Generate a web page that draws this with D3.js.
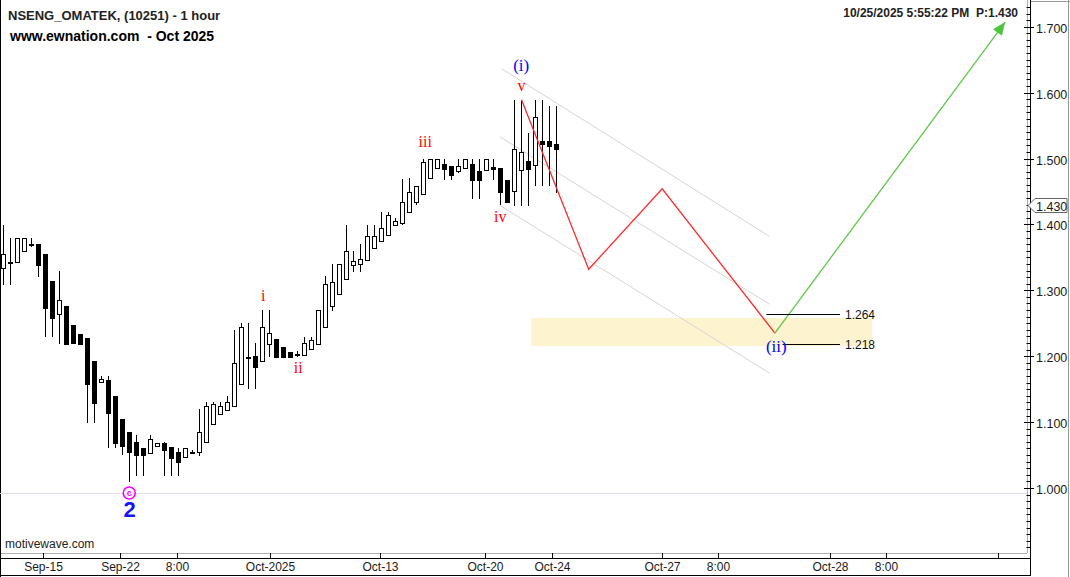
<!DOCTYPE html>
<html><head><meta charset="utf-8">
<script src="https://cdn.jsdelivr.net/npm/d3@7"></script>
<style>body{margin:0;background:#fff}svg{display:block}text{font-family:"Liberation Sans",Arial,sans-serif}</style>
</head><body><svg id="c" width="1070" height="577"></svg>
<script>
// ---- data ----
const opens  = [1.333,1.343,1.343,1.360,1.370,1.370,1.355,1.314,1.264,1.276,1.247,1.234,1.228,1.193,1.161,1.164,1.140,1.105,1.085,1.070,
                1.060,1.054,1.065,1.068,1.062,1.055,1.047,1.054,1.054,1.069,1.097,1.112,1.118,1.124,1.157,1.199,1.200,1.192,1.218,1.226,
                1.214,1.206,1.204,1.202,1.211,1.218,1.244,1.276,1.294,1.317,1.338,1.341,1.346,1.365,1.374,1.383,1.399,1.402,1.418,1.434,
                1.446,1.470,1.485,1.492,1.489,1.481,1.485,1.492,1.481,1.482,1.487,1.485,1.467,1.451,1.483,1.496,1.490,1.527,1.526,1.522];
const highs  = [1.399,1.379,1.380,1.379,1.379,1.370,1.355,1.314,1.329,1.276,1.247,1.234,1.228,1.193,1.170,1.170,1.140,1.105,1.085,1.080,
                1.060,1.080,1.069,1.070,1.062,1.060,1.060,1.057,1.120,1.130,1.130,1.130,1.139,1.239,1.250,1.250,1.220,1.270,1.270,1.226,
                1.214,1.206,1.208,1.229,1.229,1.270,1.321,1.340,1.340,1.399,1.359,1.370,1.399,1.399,1.419,1.419,1.410,1.469,1.470,1.459,
                1.499,1.499,1.499,1.499,1.489,1.499,1.499,1.499,1.499,1.499,1.499,1.485,1.467,1.589,1.589,1.538,1.589,1.589,1.580,1.580];
const lows   = [1.308,1.308,1.343,1.360,1.366,1.320,1.229,1.229,1.219,1.219,1.219,1.219,1.099,1.099,1.159,1.060,1.060,1.050,1.009,1.018,
                1.018,1.054,1.065,1.018,1.018,1.018,1.047,1.051,1.049,1.069,1.097,1.112,1.118,1.124,1.157,1.150,1.150,1.192,1.199,1.199,
                1.199,1.199,1.199,1.202,1.211,1.218,1.244,1.269,1.294,1.317,1.328,1.328,1.346,1.365,1.374,1.383,1.399,1.399,1.418,1.429,
                1.446,1.470,1.485,1.467,1.467,1.478,1.485,1.439,1.439,1.482,1.468,1.430,1.433,1.428,1.428,1.428,1.458,1.458,1.458,1.448];
const closes = [1.355,1.343,1.379,1.379,1.370,1.338,1.273,1.258,1.286,1.219,1.219,1.219,1.158,1.129,1.166,1.114,1.069,1.064,1.054,1.050,
                1.050,1.075,1.069,1.057,1.045,1.040,1.060,1.054,1.085,1.124,1.127,1.124,1.130,1.189,1.244,1.199,1.184,1.244,1.235,1.199,
                1.199,1.199,1.204,1.220,1.224,1.270,1.309,1.312,1.340,1.359,1.344,1.348,1.383,1.383,1.394,1.414,1.405,1.434,1.449,1.459,
                1.494,1.499,1.499,1.484,1.475,1.488,1.499,1.467,1.467,1.499,1.484,1.449,1.434,1.514,1.510,1.484,1.563,1.523,1.518,1.514];

const xTickLabels = ["Sep-15","Sep-22","8:00","Oct-2025","Oct-13","Oct-20","Oct-24","Oct-27","8:00","Oct-28","8:00",""];
const xTickBars   = [5.66,16.67,24.8,38.1,53.8,68.8,78.4,94.0,102.0,118.0,126.0,142.0];
const yTickValues = [1.0,1.1,1.2,1.3,1.4,1.5,1.6,1.7];

const waveBars   = [74.0,83.6,94.1,110.2];
const waveValues = [1.589,1.332,1.454,1.235];
const projBars   = [110.2,143.1];
const projValues = [1.235,1.707];

const channelBars   = [[71.2,109.4],[70.9,109.4],[70.9,109.4]];
const channelValues = [[1.636,1.382],[1.533,1.279],[1.429,1.1745]];

const zoneBars   = [75.4,124.1];
const zoneValues = [1.2155,1.258];

const targetLabels = ["1.264","1.218"];
const targetValues = [1.264,1.218];
const targetBars   = [[109.0,119.5],[111.3,119.5]];

const waveLabelText = ["(i)","v","iii","iv","i","ii","(ii)"];
const waveLabelBars = [73.96,74.0,60.24,70.96,37.1,42.1,110.4];
const waveLabelVals = [1.639,1.6085,1.5235,1.4097,1.2898,1.1806,1.2124];

const lastPrice = 1.430;
const baseLine = 0.993;
const wave2Bar = 17.96, wave2Circle = 0.9924, wave2Num = 0.968;

// ---- scales ----
const svg = d3.select("#c");
const x = d3.scaleLinear().domain([0,146]).range([3.5, 3.5+7*146]);
const y = d3.scaleLinear().domain([1.0,1.7]).range([488,26.7]);
const px = v => Math.round(v)+0.5;

// frame
svg.append("line").attr("x1",0).attr("x2",1027).attr("y1",553.5).attr("y2",553.5).attr("stroke","#b0b0b0");
svg.append("line").attr("x1",1027.5).attr("x2",1027.5).attr("y1",0).attr("y2",553).attr("stroke","#b0b0b0");
svg.append("line").attr("x1",0.5).attr("x2",0.5).attr("y1",0).attr("y2",577).attr("stroke","#000");
svg.append("line").attr("x1",1031).attr("x2",1070).attr("y1",1.5).attr("y2",1.5).attr("stroke","#999");
svg.append("line").attr("x1",1068.5).attr("x2",1068.5).attr("y1",0).attr("y2",577).attr("stroke","#999");

// base faint line
svg.append("line").attr("x1",0).attr("x2",1027).attr("y1",px(y(baseLine))).attr("y2",px(y(baseLine)))
  .attr("stroke","#e2def0").attr("stroke-width",1);

// zone
svg.append("rect").attr("x",x(zoneBars[0])).attr("width",x(zoneBars[1])-x(zoneBars[0]))
  .attr("y",y(zoneValues[1])).attr("height",y(zoneValues[0])-y(zoneValues[1])).attr("fill","#fdf4cf");

// channels
channelBars.forEach((b,k)=>{
  svg.append("line").attr("x1",x(b[0])).attr("x2",x(b[1])).attr("y1",y(channelValues[k][0])).attr("y2",y(channelValues[k][1]))
    .attr("stroke","#d4d4d4").attr("stroke-width",1);
});

// candles
const idx = d3.range(opens.length);
const g = svg.append("g");
g.selectAll("line.w").data(idx).join("line").attr("class","w")
  .attr("x1",i=>x(i)).attr("x2",i=>x(i)).attr("y1",i=>Math.round(y(highs[i]))).attr("y2",i=>Math.round(y(lows[i])))
  .attr("stroke","#000").attr("stroke-width",1);
g.selectAll("rect.b").data(idx).join("rect").attr("class","b")
  .attr("x",i=>x(i)-2).attr("width",4)
  .attr("y",i=>px(y(Math.max(opens[i],closes[i]))))
  .attr("height",i=>Math.max(1,Math.round(y(Math.min(opens[i],closes[i]))-y(Math.max(opens[i],closes[i])))))
  .attr("fill",i=>closes[i]>opens[i]?"#fff":"#000").attr("stroke","#000").attr("stroke-width",1);

// wave path
const line = d3.line().x(d=>x(d[0])).y(d=>y(d[1]));
svg.append("path").attr("d",line(waveBars.map((b,k)=>[b,waveValues[k]]))).attr("fill","none").attr("stroke","#ff2a2a").attr("stroke-width",1.3);
svg.append("path").attr("d",line(projBars.map((b,k)=>[b,projValues[k]]))).attr("fill","none").attr("stroke","#5cc84a").attr("stroke-width",1.3);
// arrow head
{
  const x1=x(projBars[0]),y1=y(projValues[0]),x2=x(projBars[1]),y2=y(projValues[1]);
  const a=Math.atan2(y2-y1,x2-x1), L=13, W=5.5;
  const bx=x2-L*Math.cos(a), by=y2-L*Math.sin(a);
  svg.append("path").attr("d",`M${x2},${y2}L${bx+W*Math.sin(a)},${by-W*Math.cos(a)}L${bx-W*Math.sin(a)},${by+W*Math.cos(a)}Z`).attr("fill","#4cc43c");
}

// targets
targetLabels.forEach((t,k)=>{
  const yy=px(y(targetValues[k]));
  svg.append("line").attr("x1",x(targetBars[k][0])).attr("x2",x(targetBars[k][1])).attr("y1",yy).attr("y2",yy).attr("stroke","#000");
  svg.append("text").attr("x",x(targetBars[k][1])+5).attr("y",yy+4).attr("font-size",12).attr("fill","#111").text(t);
});

// wave labels
waveLabelText.forEach((t,k)=>{
  const blue = t.startsWith("(");
  svg.append("text").attr("x",x(waveLabelBars[k])).attr("y",y(waveLabelVals[k])).attr("text-anchor","middle")
    .attr("dominant-baseline","middle").style("font-family","'Liberation Serif','Times New Roman',serif")
    .attr("font-size",blue?17:16).attr("fill",blue?"#0000ff":"#ff0000").text(t);
});
// wave 2 label
svg.append("circle").attr("cx",x(wave2Bar)).attr("cy",y(wave2Circle)).attr("r",6).attr("fill","none").attr("stroke","#ff00ff").attr("stroke-width",1.6);
svg.append("text").attr("x",x(wave2Bar)).attr("y",y(wave2Circle)+3).attr("text-anchor","middle").attr("font-size",9).attr("font-weight","bold").attr("fill","#ff00ff").text("c");
svg.append("text").attr("x",x(wave2Bar)+0.5).attr("y",y(wave2Num)+8).attr("text-anchor","middle").attr("font-size",22).attr("font-weight","bold").attr("fill","#1414ff").text("2");

// x axis
svg.append("line").attr("x1",0).attr("x2",1031).attr("y1",558.5).attr("y2",558.5).attr("stroke","#000");
svg.append("line").attr("x1",0).attr("x2",1031).attr("y1",575.5).attr("y2",575.5).attr("stroke","#000");
xTickBars.forEach((b,k)=>{
  const xx=px(x(b));
  svg.append("line").attr("x1",xx).attr("x2",xx).attr("y1",553).attr("y2",558).attr("stroke","#000");
  svg.append("text").attr("x",xx).attr("y",571).attr("text-anchor","middle").attr("font-size",12).attr("fill","#1a1a1a").text(xTickLabels[k]);
});

// y axis
svg.append("line").attr("x1",1030.5).attr("x2",1030.5).attr("y1",0).attr("y2",576).attr("stroke","#000");
d3.range(91,175).forEach(n=>{
  const v=n/100, yy=px(y(v));
  if(yy<2||yy>553) return;
  const major = n%10===0;
  svg.append("line").attr("x1",major?1024:1026.5).attr("x2",major?1034:1030).attr("y1",yy).attr("y2",yy).attr("stroke","#000");
});
yTickValues.forEach(v=>{
  svg.append("text").attr("x",1036).attr("y",px(y(v))+5).attr("font-size",12.5).attr("fill","#1a1a1a").text(d3.format(".3f")(v));
});
// price marker
{
  const yy=px(y(lastPrice));
  svg.append("path").attr("d",`M1028,${yy}L1035,${yy-7}L1067,${yy-7}L1067,${yy+7}L1035,${yy+7}Z`).attr("fill","#fff").attr("stroke","#666");
  svg.append("text").attr("x",1036).attr("y",yy+5).attr("font-size",12.5).attr("fill","#1a1a1a").text(d3.format(".3f")(lastPrice));
}

// titles
svg.append("text").attr("x",8).attr("y",20).attr("font-size",13).attr("font-weight","bold").attr("fill","#222").text("NSENG_OMATEK, (10251) - 1 hour");
svg.append("text").attr("x",10).attr("y",41).attr("font-size",14).attr("font-weight","bold").attr("fill","#000").style("white-space","pre").text("www.ewnation.com  - Oct 2025");
svg.append("text").attr("x",1018).attr("y",17).attr("text-anchor","end").attr("font-size",12).attr("font-weight","bold").attr("fill","#222").style("white-space","pre").text("10/25/2025 5:55:22 PM  P:1.430");
svg.append("text").attr("x",5).attr("y",548).attr("font-size",12).attr("fill","#222").text("motivewave.com");
</script></body></html>
